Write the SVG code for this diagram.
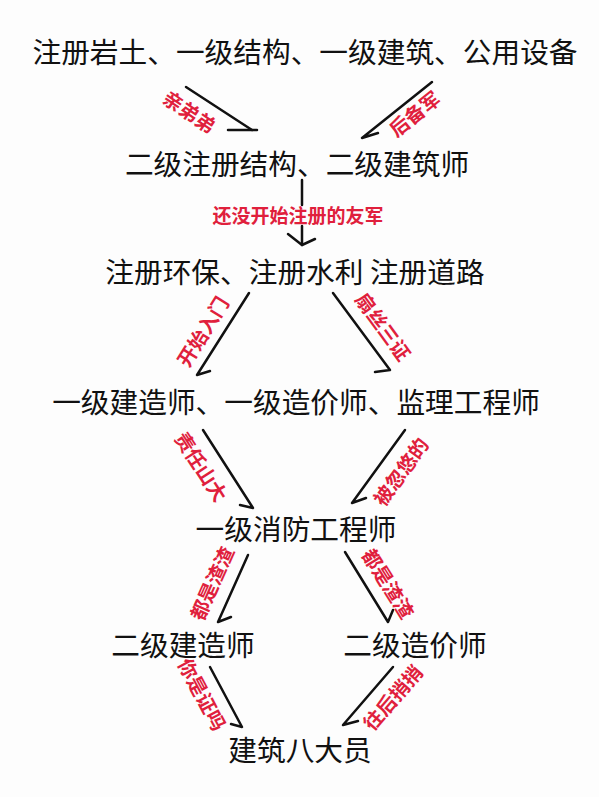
<svg xmlns="http://www.w3.org/2000/svg" width="599" height="797" viewBox="0 0 599 797">
<style>
.n{font-family:"Noto Sans CJK SC","Noto Sans",sans-serif;font-size:28.7px;fill:#111;text-anchor:middle;dominant-baseline:central}
.l{font-family:"Noto Sans CJK SC","Noto Sans",sans-serif;font-size:19.5px;font-weight:bold;fill:#e0203c;text-anchor:middle;dominant-baseline:central}
.c{fill:none;stroke:#111;stroke-width:2.5;stroke-linecap:round;stroke-linejoin:round}
</style>
<rect width="599" height="797" fill="#fdfdfd"/>
<g id="n1"><text class="n" x="305" y="50">注册岩土、一级结构、一级建筑、公用设备</text></g>
<g id="n2"><text class="n" x="297" y="162">二级注册结构、二级建筑师</text></g>
<g id="n3"><text class="n" x="295" y="270">注册环保、注册水利 注册道路</text></g>
<g id="n4"><text class="n" x="296" y="400">一级建造师、一级造价师、监理工程师</text></g>
<g id="n5"><text class="n" x="296" y="527">一级消防工程师</text></g>
<g id="n6"><text class="n" x="183" y="643">二级建造师</text></g>
<g id="n7"><text class="n" x="415" y="643">二级造价师</text></g>
<g id="n8"><text class="n" x="300" y="748">建筑八大员</text></g>
<g id="connectors">
<polyline class="c" points="186,87 252,130"/><line class="c" x1="228" y1="130" x2="257" y2="130"/>
<polyline class="c" points="432,82 362,138 378,133"/>
<line class="c" x1="302" y1="180" x2="302" y2="205"/>
<polyline class="c" points="302,226 302,245"/><polyline class="c" points="288,234 302,245 315,239"/>
<polyline class="c" points="249,293 197,375 210,371"/>
<polyline class="c" points="333,293 390,370 375,372"/>
<polyline class="c" points="203,430 253,508 240,505"/>
<polyline class="c" points="405,430 352,503 366,498"/>
<polyline class="c" points="248,555 218,622 231,617"/>
<polyline class="c" points="345,552 388,622 393,610"/>
<polyline class="c" points="210,667 242,727 231,724"/>
<polyline class="c" points="393,667 343,725 358,721"/>
</g>
<g id="labels">
<text class="l" transform="translate(190,111) rotate(34)">亲弟弟</text>
<text class="l" transform="translate(414,113) rotate(-39)">后备军</text>
<text class="l" x="298" y="214" style="font-size:19px">还没开始注册的友军</text>
<text class="l" transform="translate(202,331) rotate(-58)">开始入门</text>
<text class="l" transform="translate(384,326) rotate(54)">扇丝三证</text>
<text class="l" transform="translate(202,466) rotate(57)">责任山大</text>
<text class="l" transform="translate(400,471) rotate(-54)">被忽悠的</text>
<text class="l" transform="translate(211,583) rotate(-66)">都是渣渣</text>
<text class="l" transform="translate(389,583) rotate(58)">都是渣渣</text>
<text class="l" transform="translate(203,694) rotate(62)">你是证吗</text>
<text class="l" transform="translate(392,697) rotate(-49)">往后捎捎</text>
</g>
</svg>
